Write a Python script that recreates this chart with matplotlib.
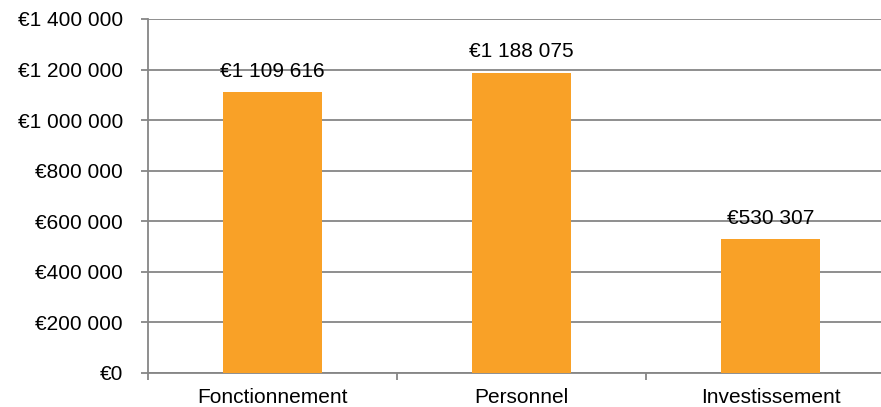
import matplotlib.pyplot as plt
from matplotlib.ticker import FuncFormatter
import numpy as np

plt.rcParams['font.family'] = ['Liberation Sans', 'DejaVu Sans']

categories = ["Fonctionnement", "Personnel", "Investissement"]
amounts = [1109616, 1188075, 530307]


def euro(v, pos=None):
    return "€" + format(int(round(v)), ",").replace(",", " ")


fig = plt.figure(figsize=(8.81, 4.07), dpi=100)
# axes runs slightly past the right edge, like the cropped original
ax = fig.add_axes([148 / 881, 34 / 407, 747 / 881, 354 / 407])

x = np.arange(len(categories))
bars = ax.bar(x, amounts, width=0.4, color="#F9A127", zorder=3)

for b, v in zip(bars, amounts):
    ax.annotate(euro(v), (b.get_x() + b.get_width() / 2, v),
                xytext=(0, 8), textcoords="offset points",
                ha="center", va="bottom", fontsize=15, zorder=4)

ax.set_xlim(-0.5, 2.5)
ax.set_ylim(0, 1400000)
ax.set_yticks(np.arange(0, 1400001, 200000))
ax.yaxis.set_major_formatter(FuncFormatter(euro))
ax.grid(axis="y", color="#868686", linewidth=1.3, zorder=0)

ax.set_xticks(x)
ax.set_xticklabels(categories)
ax.set_xticks([-0.5, 0.5, 1.5, 2.5], minor=True)
ax.tick_params(axis="x", which="major", length=0, labelsize=15, pad=11)
ax.tick_params(axis="x", which="minor", length=5, color="#868686", width=1.3)
ax.tick_params(axis="y", length=5, color="#868686", width=1.3, labelsize=15, pad=13)

for s in ["top", "right"]:
    ax.spines[s].set_visible(False)
for s in ["left", "bottom"]:
    ax.spines[s].set_color("#868686")
    ax.spines[s].set_linewidth(1.3)

plt.savefig("out.png")
